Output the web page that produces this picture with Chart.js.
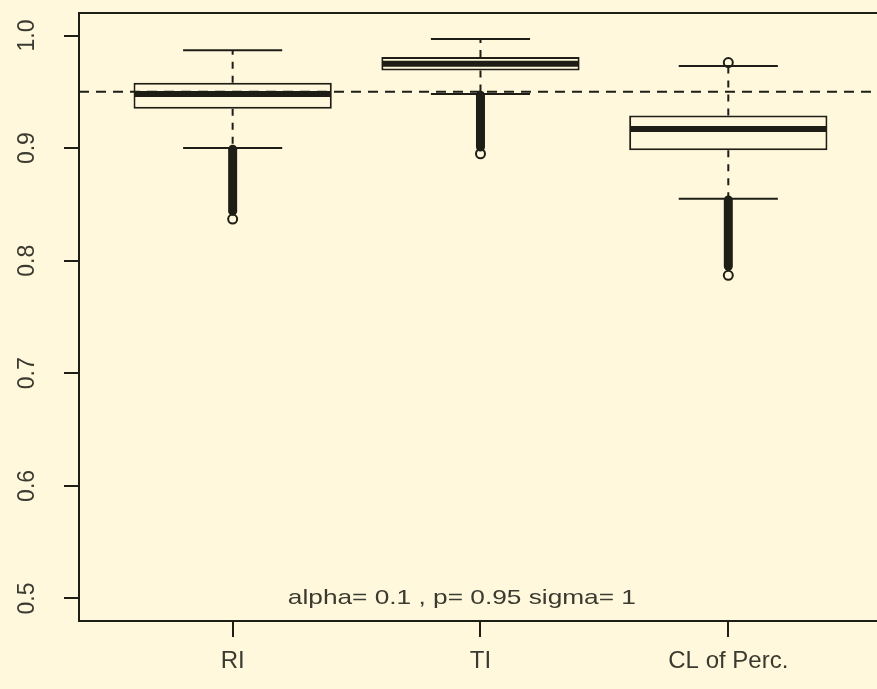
<!DOCTYPE html>
<html>
<head>
<meta charset="utf-8">
<script src="https://cdn.jsdelivr.net/npm/chart.js@4"></script>
<style>
  html, body { margin: 0; padding: 0; background: #fff8dc; overflow: hidden; }
  canvas { display: block; }
</style>
</head>
<body>
<canvas id="chart" width="877" height="689"></canvas>
<script>
'use strict';

// data
const categories = ['RI', 'TI', 'CL of Perc.'];
const lowerWhisker = [0.900, 0.948, 0.855];
const q1 = [0.935, 0.969, 0.898];
const medians = [0.948, 0.975, 0.917];
const q3 = [0.958, 0.981, 0.929];
const upperWhisker = [0.987, 0.997, 0.973];
// outliers below the whisker are so many that they form a solid run
const outlierRunTop = [0.899, 0.947, 0.854];
const outlierRunBottom = [0.844, 0.901, 0.795];
const extremeOutliers = [[0.837], [0.895], [0.787, 0.976]];
const yTicks = [0.5, 0.6, 0.7, 0.8, 0.9, 1.0];
const yTickLabels = ['0.5', '0.6', '0.7', '0.8', '0.9', '1.0'];
const refLine = 0.95;
const note = 'alpha= 0.1 , p= 0.95 sigma= 1';
const notePos = { x: 1.925, y: 0.5 };

const bg = '#fff8dc';
const ink = '#1e1e16';
const textCol = '#3a3a30';

const boxData = categories.map((c, i) => ({ x: i + 1, y: [q1[i], q3[i]] }));
const outlierPoints = [];
extremeOutliers.forEach((list, i) => list.forEach(v => outlierPoints.push({ x: i + 1, y: v })));

const boxPlot = {
    id: 'boxPlot',
    beforeDatasetsDraw(chart) {
        const ctx = chart.ctx;
        const xs = chart.scales.x, ys = chart.scales.y;
        ctx.save();
        ctx.strokeStyle = ink;
        ctx.lineWidth = 2;
        ctx.setLineDash([7, 7]);
        categories.forEach((c, i) => {
            const px = xs.getPixelForValue(i + 1);
            ctx.beginPath();
            ctx.moveTo(px, ys.getPixelForValue(q3[i]));
            ctx.lineTo(px, ys.getPixelForValue(upperWhisker[i]));
            ctx.moveTo(px, ys.getPixelForValue(q1[i]));
            ctx.lineTo(px, ys.getPixelForValue(lowerWhisker[i]));
            ctx.stroke();
        });
        ctx.restore();
    },
    afterDatasetsDraw(chart) {
        const ctx = chart.ctx;
        const xs = chart.scales.x, ys = chart.scales.y;
        const area = chart.chartArea;
        ctx.save();
        ctx.strokeStyle = ink;
        // medians, staples, outlier runs
        categories.forEach((c, i) => {
            const px = xs.getPixelForValue(i + 1);
            const half = xs.getPixelForValue(i + 1.4) - px;
            const staple = xs.getPixelForValue(i + 1.2) - px;
            ctx.lineWidth = 6;
            ctx.beginPath();
            ctx.moveTo(px - half + 1, ys.getPixelForValue(medians[i]));
            ctx.lineTo(px + half - 1, ys.getPixelForValue(medians[i]));
            ctx.stroke();
            ctx.lineWidth = 2;
            ctx.beginPath();
            ctx.moveTo(px - staple, ys.getPixelForValue(upperWhisker[i]));
            ctx.lineTo(px + staple, ys.getPixelForValue(upperWhisker[i]));
            ctx.moveTo(px - staple, ys.getPixelForValue(lowerWhisker[i]));
            ctx.lineTo(px + staple, ys.getPixelForValue(lowerWhisker[i]));
            ctx.stroke();
            ctx.lineWidth = 9;
            ctx.lineCap = 'round';
            ctx.beginPath();
            ctx.moveTo(px, ys.getPixelForValue(outlierRunTop[i]));
            ctx.lineTo(px, ys.getPixelForValue(outlierRunBottom[i]));
            ctx.stroke();
            ctx.lineCap = 'butt';
        });
        // reference line
        ctx.lineWidth = 2;
        ctx.setLineDash([10, 7]);
        ctx.beginPath();
        ctx.moveTo(area.left, ys.getPixelForValue(refLine));
        ctx.lineTo(area.right, ys.getPixelForValue(refLine));
        ctx.stroke();
        ctx.setLineDash([]);
        // top frame line
        ctx.beginPath();
        ctx.moveTo(area.left, area.top);
        ctx.lineTo(area.right, area.top);
        ctx.stroke();
        ctx.restore();
    },
    afterDraw(chart) {
        const ctx = chart.ctx;
        const xs = chart.scales.x, ys = chart.scales.y;
        ctx.save();
        ctx.fillStyle = textCol;
        ctx.font = '23px "Liberation Sans", Arial, sans-serif';
        ctx.textAlign = 'center';
        ctx.textBaseline = 'middle';
        yTicks.forEach((v, i) => {
            ctx.save();
            ctx.translate(28, ys.getPixelForValue(v));
            ctx.rotate(-Math.PI / 2);
            ctx.fillText(yTickLabels[i], 0, 0);
            ctx.restore();
        });
        ctx.font = '21px "Liberation Sans", Arial, sans-serif';
        ctx.translate(xs.getPixelForValue(notePos.x), ys.getPixelForValue(notePos.y));
        ctx.scale(1.25, 1);
        ctx.fillText(note, 0, 0);
        ctx.restore();
    }
};

new Chart(document.getElementById('chart'), {
    type: 'bar',
    data: {
        datasets: [
            {
                type: 'scatter',
                data: outlierPoints,
                pointRadius: 4.5,
                pointBackgroundColor: bg,
                pointBorderColor: ink,
                pointBorderWidth: 2,
                order: 0
            },
            {
                type: 'bar',
                data: boxData,
                backgroundColor: bg,
                borderColor: ink,
                borderWidth: 2,
                borderSkipped: false,
                barPercentage: 0.8,
                categoryPercentage: 1,
                order: 1
            }
        ]
    },
    options: {
        responsive: false,
        animation: false,
        layout: { autoPadding: false, padding: { top: 13, right: 0, left: 0, bottom: 0 } },
        plugins: {
            legend: { display: false },
            tooltip: { enabled: false }
        },
        scales: {
            x: {
                type: 'linear',
                min: 0.38,
                max: 3.6,
                offset: false,
                afterBuildTicks: scale => { scale.ticks = categories.map((c, i) => ({ value: i + 1 })); },
                afterFit: scale => {
                    scale.height = 68;
                    scale.paddingLeft = 0;
                    scale.paddingRight = 0;
                },
                grid: { offset: false, drawOnChartArea: false, drawTicks: true, tickLength: 16, color: ink, lineWidth: 2 },
                border: { display: true, color: ink, width: 2 },
                ticks: {
                    autoSkip: false,
                    maxRotation: 0,
                    padding: 10,
                    color: textCol,
                    font: { family: '"Liberation Sans", Arial, sans-serif', size: 24 },
                    callback: (v, i) => categories[i]
                }
            },
            y: {
                type: 'linear',
                min: 0.48,
                max: 1.02,
                afterBuildTicks: scale => { scale.ticks = yTicks.map(v => ({ value: v })); },
                afterFit: scale => { scale.width = 79; },
                grid: { drawOnChartArea: false, drawTicks: true, tickLength: 15, color: ink, lineWidth: 2 },
                border: { display: true, color: ink, width: 2 },
                ticks: { display: false }
            }
        }
    },
    plugins: [boxPlot]
});
</script>
</body>
</html>
